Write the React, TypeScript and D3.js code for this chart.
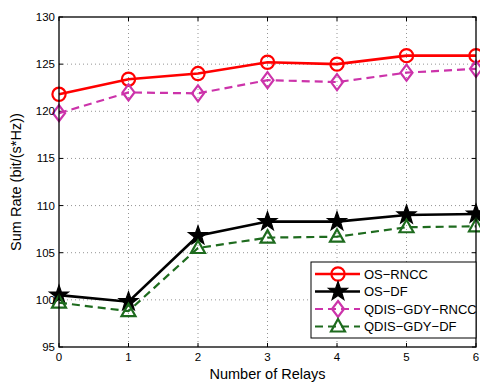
import React from 'react';
import * as d3 from 'd3';

const relays = [0, 1, 2, 3, 4, 5, 6];
const osRncc = [121.8, 123.4, 124.0, 125.2, 125.0, 125.9, 125.9];
const osDf = [100.5, 99.8, 106.8, 108.3, 108.3, 109.0, 109.1];
const qdisRncc = [119.8, 122.0, 121.9, 123.3, 123.1, 124.1, 124.5];
const qdisDf = [99.7, 98.8, 105.5, 106.6, 106.7, 107.7, 107.8];
const yTicks = [95, 100, 105, 110, 115, 120, 125, 130];

const W = 480;
const H = 383;
const M = { left: 59, right: 476, top: 17, bottom: 347 };
const FONT = 'Liberation Sans, Arial, sans-serif';

type Marker = 'circle' | 'star' | 'diamond' | 'triangle';

const series: { name: string; values: number[]; color: string; dash: string; marker: Marker; width: number }[] = [
  { name: 'OS\u2212RNCC', values: osRncc, color: '#ff0000', dash: '', marker: 'circle', width: 2.6 },
  { name: 'OS\u2212DF', values: osDf, color: '#000000', dash: '', marker: 'star', width: 2.6 },
  { name: 'QDIS\u2212GDY\u2212RNCC', values: qdisRncc, color: '#cc33aa', dash: '8,5', marker: 'diamond', width: 2.2 },
  { name: 'QDIS\u2212GDY\u2212DF', values: qdisDf, color: '#1e6b1e', dash: '8,5', marker: 'triangle', width: 2.2 },
];

function markerPath(m: Marker): string {
  if (m === 'circle') {
    return d3.symbol(d3.symbolCircle, Math.PI * 6.6 * 6.6)()!;
  }
  if (m === 'star') {
    const pts: string[] = [];
    for (let i = 0; i < 10; i++) {
      const r = i % 2 === 0 ? 10 : 4;
      const a = (i * Math.PI) / 5 - Math.PI / 2;
      pts.push(`${r * Math.cos(a)},${r * Math.sin(a)}`);
    }
    return 'M' + pts.join('L') + 'Z';
  }
  if (m === 'diamond') {
    return 'M0,-8L6,0L0,8L-6,0Z';
  }
  return 'M0,-7.5L7,5L-7,5Z';
}

function Mark({ m, x, y, color }: { m: Marker; x: number; y: number; color: string }) {
  const filled = m === 'star';
  return (
    <path
      d={markerPath(m)}
      transform={`translate(${x},${y})`}
      fill={filled ? color : 'none'}
      stroke={color}
      strokeWidth={m === 'star' ? 1.2 : 2.2}
      strokeLinejoin="miter"
    />
  );
}

export default function App() {
  const x = d3.scaleLinear().domain([0, 6]).range([M.left, M.right]);
  const y = d3.scaleLinear().domain([95, 130]).range([M.bottom, M.top]);
  const line = d3
    .line<number>()
    .x((_, i) => x(relays[i]))
    .y((d) => y(d));

  const legendX = 311;
  const legendY = 262;
  const legendRows = [274, 291.5, 309, 326.5];

  return (
    <svg width={W} height={H} style={{ position: 'absolute', left: 0, top: 0, background: '#fff' }}>
      <rect x={0} y={0} width={W} height={H} fill="#fff" />
      {/* grid */}
      <g stroke="#000" strokeWidth={0.6} strokeDasharray="1,3" opacity={0.7}>
        {relays.slice(1, -1).map((r) => (
          <line key={'gx' + r} x1={x(r)} x2={x(r)} y1={M.top} y2={M.bottom} />
        ))}
        {yTicks.slice(1, -1).map((t) => (
          <line key={'gy' + t} x1={M.left} x2={M.right} y1={y(t)} y2={y(t)} />
        ))}
      </g>
      {/* ticks */}
      <g stroke="#000" strokeWidth={1}>
        {relays.map((r) => (
          <g key={'tx' + r}>
            <line x1={x(r)} x2={x(r)} y1={M.bottom} y2={M.bottom - 4} />
            <line x1={x(r)} x2={x(r)} y1={M.top} y2={M.top + 4} />
          </g>
        ))}
        {yTicks.map((t) => (
          <g key={'ty' + t}>
            <line x1={M.left} x2={M.left + 4} y1={y(t)} y2={y(t)} />
            <line x1={M.right} x2={M.right - 4} y1={y(t)} y2={y(t)} />
          </g>
        ))}
      </g>
      {/* series */}
      {series.map((s) => (
        <g key={s.name}>
          <path d={line(s.values)!} fill="none" stroke={s.color} strokeWidth={s.width} strokeDasharray={s.dash} />
          {s.values.map((v, i) => (
            <Mark key={i} m={s.marker} x={x(relays[i])} y={y(v)} color={s.color} />
          ))}
        </g>
      ))}
      {/* frame */}
      <rect x={M.left} y={M.top} width={M.right - M.left} height={M.bottom - M.top} fill="none" stroke="#000" strokeWidth={1.3} />
      {/* tick labels */}
      <g fontFamily={FONT} fontSize={11.5} fill="#000">
        {relays.map((r) => (
          <text key={'lx' + r} x={x(r)} y={M.bottom + 14} textAnchor="middle">
            {r}
          </text>
        ))}
        {yTicks.map((t) => (
          <text key={'ly' + t} x={M.left - 4} y={y(t) + 4} textAnchor="end">
            {t}
          </text>
        ))}
      </g>
      <text x={(M.left + M.right) / 2} y={379} textAnchor="middle" fontFamily={FONT} fontSize={14.5}>
        Number of Relays
      </text>
      <text
        transform={`translate(21,${(M.top + M.bottom) / 2}) rotate(-90)`}
        textAnchor="middle"
        fontFamily={FONT}
        fontSize={14.5}
      >
        Sum Rate (bit/(s*Hz))
      </text>
      {/* legend */}
      <rect x={legendX} y={legendY} width={M.right - legendX} height={76} fill="#fff" stroke="#000" strokeWidth={1} />
      {series.map((s, i) => (
        <g key={'lg' + s.name}>
          <line x1={315} x2={360} y1={legendRows[i]} y2={legendRows[i]} stroke={s.color} strokeWidth={s.width} strokeDasharray={s.dash} />
          <Mark m={s.marker} x={338} y={legendRows[i]} color={s.color} />
          <text x={364} y={legendRows[i] + 4.5} fontFamily={FONT} fontSize={13}>
            {s.name}
          </text>
        </g>
      ))}
    </svg>
  );
}
